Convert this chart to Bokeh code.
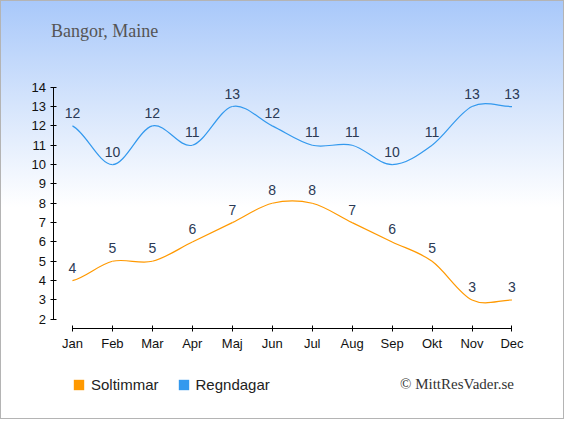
from bokeh.plotting import figure
from bokeh.models import (Range1d, FixedTicker, Label, Legend, LegendItem,
                          InlineStyleSheet, ColumnDataSource)
from bokeh.core.properties import value
from bokeh.embed import file_html
from bokeh.resources import INLINE

months = ["Jan", "Feb", "Mar", "Apr", "Maj", "Jun", "Jul", "Aug", "Sep", "Okt", "Nov", "Dec"]
soltimmar = [4, 5, 5, 6, 7, 8, 8, 7, 6, 5, 3, 3]
regndagar = [12, 10, 12, 11, 13, 12, 11, 11, 10, 11, 13, 13]
title_text = "Bangor, Maine"
credit_text = "© MittResVader.se"
series_names = ["Soltimmar", "Regndagar"]
series_colors = ["#ff9900", "#3399ee"]

W, H = 564, 419
RW, RH = 580.0, 435.0
SX, SY = W / RW, H / RH

# reference layout (pixels of the 580x435 reference)
X0PX, X11PX = 74 * SX, 526 * SX
Y2PX, Y14PX = 331 * SY, 90 * SY
dx = (X11PX - X0PX) / 11.0
dy = (Y2PX - Y14PX) / 12.0


def px2x(px):
    return (px * SX - X0PX) / dx


def py2y(py):
    return 2 + (Y2PX - py * SY) / dy


x_start = -X0PX / dx
x_end = 11 + (W - X11PX) / dx
y_start = 2 - (H - Y2PX) / dy
y_end = 14 + Y14PX / dy

p = figure(width=W, height=H, output_backend="svg", toolbar_location=None,
           x_range=Range1d(x_start, x_end), y_range=Range1d(y_start, y_end),
           min_border=0)
p.title.visible = False
p.background_fill_alpha = 0
p.border_fill_alpha = 0
p.outline_line_color = None
p.grid.visible = False
p.stylesheets = [InlineStyleSheet(css=":host { background: linear-gradient(to bottom, #a8c8fa 0px, #d6e5fc 106px, #ffffff 207px, #ffffff 100%); box-shadow: inset 0 0 0 1px #b4b4b4; }")]

xs = list(range(len(months)))

# axes, drawn at fixed positions inside the canvas
p.xaxis.ticker = FixedTicker(ticks=xs)
p.xaxis.major_label_overrides = {i: m for i, m in enumerate(months)}
p.xaxis.bounds = (0, 11)
p.xaxis.fixed_location = py2y(341)
p.yaxis.ticker = FixedTicker(ticks=list(range(2, 15)))
p.yaxis.bounds = (2, 14)
p.yaxis.fixed_location = px2x(54)
for ax in (p.xaxis, p.yaxis):
    ax.axis_line_color = "#000000"
    ax.major_tick_line_color = "#000000"
    ax.major_tick_in = 3
    ax.major_tick_out = 3
    ax.minor_tick_line_color = None
    ax.major_label_text_font = "Liberation Sans"
    ax.major_label_text_font_size = "13px"
    ax.major_label_text_color = "#111111"
p.yaxis.major_label_standoff = 4
p.xaxis.major_label_standoff = 4


def catmull_bezier(ys):
    n = len(ys)
    t = []
    for i in range(n):
        a = ys[i - 1] if i > 0 else ys[i]
        b = ys[i + 1] if i < n - 1 else ys[i]
        t.append((b - a) / 2.0)
    d = dict(x0=[], y0=[], x1=[], y1=[], cx0=[], cy0=[], cx1=[], cy1=[])
    for i in range(n - 1):
        d["x0"].append(i); d["y0"].append(ys[i])
        d["x1"].append(i + 1); d["y1"].append(ys[i + 1])
        d["cx0"].append(i + 1 / 3); d["cy0"].append(ys[i] + t[i] / 3)
        d["cx1"].append(i + 2 / 3); d["cy1"].append(ys[i + 1] - t[i + 1] / 3)
    return ColumnDataSource(d)


legend_items = []
for name, ys, col in zip(series_names, [soltimmar, regndagar], series_colors):
    p.bezier(x0="x0", y0="y0", x1="x1", y1="y1", cx0="cx0", cy0="cy0",
             cx1="cx1", cy1="cy1", source=catmull_bezier(ys),
             line_color=col, line_width=1.2)
    p.text(x=xs, y=ys, text=[str(v) for v in ys], text_align="center",
           text_baseline="bottom", y_offset=-8, text_font=value("Liberation Sans"),
           text_font_size="14px", text_color="#2b3a55")
    # zero-size rects: invisible in the plot, give the legend its square swatch
    r = p.rect(x=xs, y=ys, width=0, height=0, fill_color=col, line_color=None)
    legend_items.append(LegendItem(label=name, renderers=[r]))

legend = Legend(items=legend_items, orientation="horizontal",
                location=(72, 26),
                background_fill_alpha=0, border_line_color=None,
                label_text_font="Liberation Sans", label_text_font_size="15px",
                label_text_color="#222222", glyph_width=13, glyph_height=13,
                spacing=18, padding=0, margin=0, label_standoff=6)
p.add_layout(legend, "center")

p.add_layout(Label(x=px2x(52), y=py2y(32), text=title_text, text_font="Liberation Serif",
                   text_font_size="18px", text_color="#555555",
                   text_baseline="middle", text_align="left"))
p.add_layout(Label(x=px2x(528), y=py2y(398), text=credit_text, text_font="Liberation Serif",
                   text_font_size="15px", text_color="#333333",
                   text_baseline="middle", text_align="right"))

open("out.html", "w").write(file_html(p, INLINE))
